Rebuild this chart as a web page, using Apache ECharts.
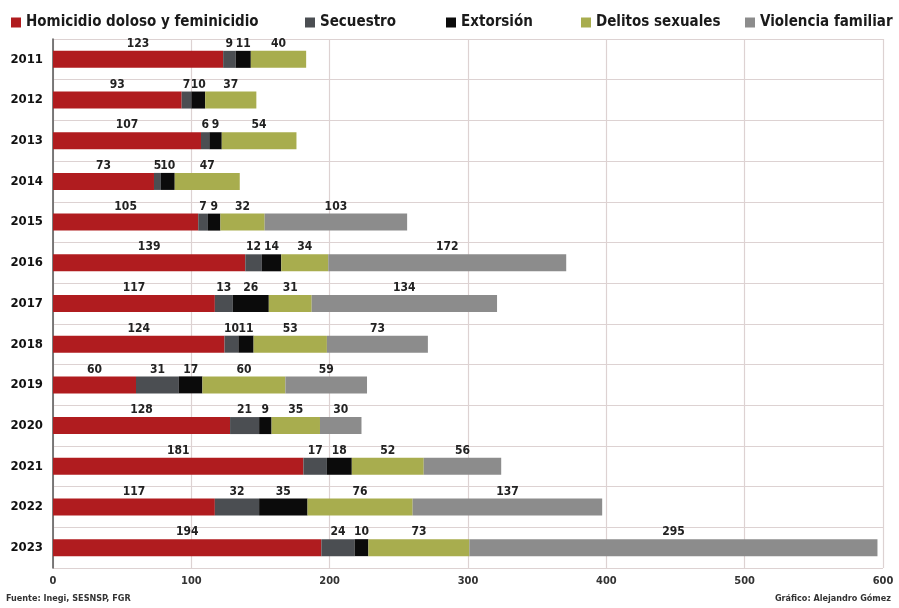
<!DOCTYPE html>
<html><head><meta charset="utf-8">
<script src="https://cdn.jsdelivr.net/npm/echarts@6/dist/echarts.min.js"></script>
<style>html,body{margin:0;padding:0;background:#fff}#c{width:899px;height:608px}</style>
</head><body><div id="c"></div>
<script>
const years = ['2011','2012','2013','2014','2015','2016','2017','2018','2019','2020','2021','2022','2023'];
const homicidio = [123,93,107,73,105,139,117,124,60,128,181,117,194];
const secuestro = [9,7,6,5,7,12,13,10,31,21,17,32,24];
const extorsion = [11,10,9,10,9,14,26,11,17,9,18,35,10];
const delitos = [40,37,54,47,32,34,31,53,60,35,52,76,73];
const violencia = [null,null,null,null,103,172,134,73,59,30,56,137,295];
const seriesNames = ['Homicidio doloso y feminicidio','Secuestro','Extorsión','Delitos sexuales','Violencia familiar'];
const colors = ['#b01c1f','#4b4e52','#0b0b0b','#a8ad4e','#8c8c8c'];
const xTicks = [0,100,200,300,400,500,600];

const FONT = '"DejaVu Sans Condensed","Liberation Sans Narrow",sans-serif';
const chart = echarts.init(document.getElementById('c'));
const values = [homicidio, secuestro, extorsion, delitos, violencia];
const legendLeft = [6, 300, 441, 576, 740];

chart.setOption({
  backgroundColor: '#fff',
  animation: false,
  color: colors,
  legend: seriesNames.map((n,i)=>({
    data:[n], left: legendLeft[i], top: 10, itemWidth: 10, itemHeight: 10, itemGap: 4,
    icon: 'rect',
    textStyle:{fontFamily:FONT, fontSize:15, fontWeight:'bold', color:'#1a1a1a'}
  })),
  grid: {left: 53, right: 16, top: 39, bottom: 40},
  xAxis: {
    type:'value', min:0, max:600, interval:100,
    axisLine:{show:false}, axisTick:{show:false},
    axisLabel:{fontFamily:FONT, fontSize:11, fontWeight:'bold', color:'#333', margin:8,
      formatter: v => xTicks.includes(v) ? String(v) : ''},
    splitLine:{show:true, lineStyle:{color:'#ddd2d2', width:1.2}}
  },
  yAxis: {
    type:'category', data: years, inverse:true,
    axisLine:{show:true, lineStyle:{color:'#555', width:1.5}},
    axisTick:{show:false},
    axisLabel:{fontFamily:FONT, fontSize:13, fontWeight:'bold', color:'#111', margin:10},
    splitLine:{show:true, lineStyle:{color:'#ddd2d2', width:1.2}}
  },
  series: seriesNames.map((n,i)=>({
    name:n, type:'bar', stack:'total', data: values[i], barWidth:17,
    itemStyle:{color: colors[i]},
    label:{show:true, position:'top', distance:1, fontFamily:FONT, fontSize:12, fontWeight:'bold', color:'#222',
      formatter: p => p.value == null ? '' : String(p.value)}
  })),
  graphic: [
    {type:'text', left:6, top:594, style:{text:'Fuente: Inegi, SESNSP, FGR', font:'bold 9px '+FONT, fill:'#333'}},
    {type:'text', right:8, top:594, style:{text:'Gráfico: Alejandro Gómez', font:'bold 9px '+FONT, fill:'#333'}}
  ]
});
</script></body></html>
